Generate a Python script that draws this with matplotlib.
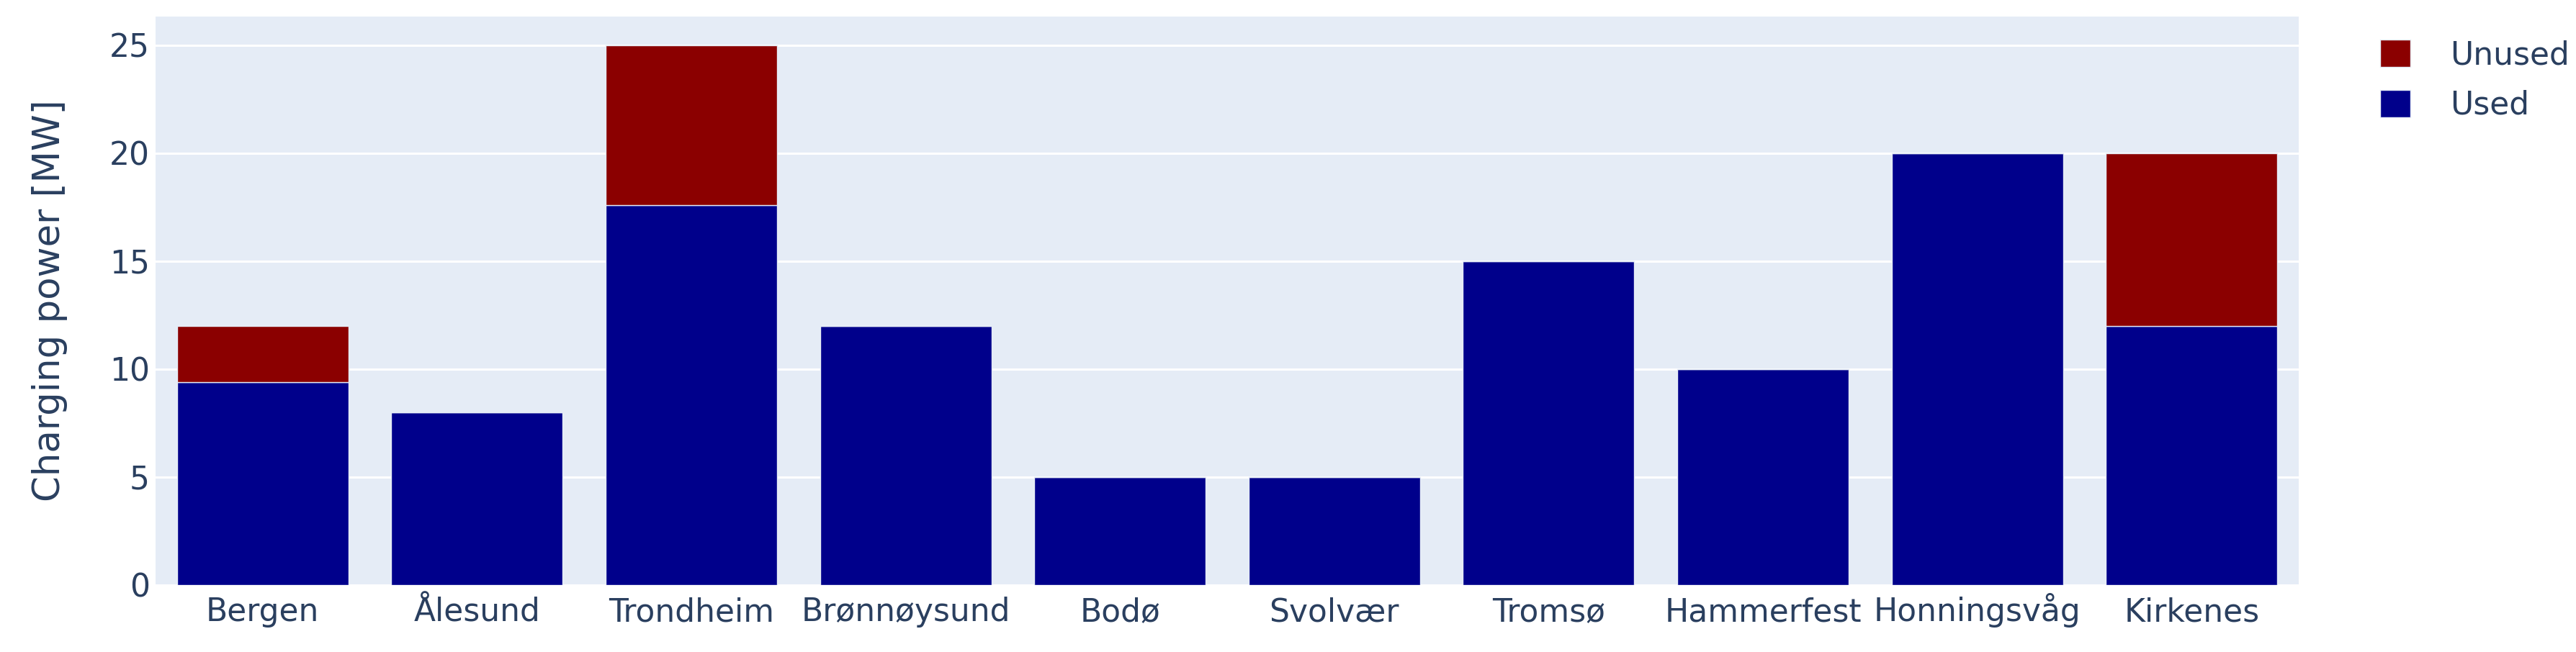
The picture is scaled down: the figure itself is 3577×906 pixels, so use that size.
import matplotlib
matplotlib.use("Agg")
import matplotlib.pyplot as plt
from matplotlib.patches import Patch
import numpy as np

# ── Data ──────────────────────────────────────────────────────────────────────
ports = ["Bergen", "Ålesund", "Trondheim", "Brønnøysund", "Bodø",
         "Svolvær", "Tromsø", "Hammerfest", "Honningsvåg", "Kirkenes"]
used = [9.4, 8, 17.6, 12, 5, 5, 15, 10, 20, 12]
unused = [2.6, 0, 7.4, 0, 0, 0, 0, 0, 0, 8]

# ── Style ─────────────────────────────────────────────────────────────────────
BG = "#E5ECF6"
TXT = "#2a3f5f"
USED_C = "#00008B"
UNUSED_C = "#8B0000"
TICK_FS = 31.7
TITLE_FS = 37

W, H, DPI = 3577, 906, 100
fig = plt.figure(figsize=(W / DPI, H / DPI), dpi=DPI)
fig.patch.set_facecolor("white")
ax = fig.add_axes([216 / W, 1 - 813 / H, (3192 - 216) / W, (813 - 23) / H])
ax.set_facecolor(BG)

x = np.arange(len(ports))
ax.bar(x, used, width=0.8, color=USED_C, edgecolor=BG, linewidth=1.0, zorder=3)
ax.bar(x, unused, width=0.8, bottom=used, color=UNUSED_C, edgecolor=BG,
       linewidth=1.0, zorder=3)

ax.set_xlim(-0.5, len(ports) - 0.5)
ax.set_ylim(0, 26.33)
ax.set_yticks([0, 5, 10, 15, 20, 25])
ax.set_xticks(x)
ax.set_xticklabels(ports)
ax.grid(axis="y", color="white", linewidth=2.2, zorder=1)
ax.set_axisbelow(True)
ax.tick_params(axis="both", length=0, labelsize=TICK_FS, labelcolor=TXT)
ax.tick_params(axis="y", pad=6)
# baseline-aligned like plotly, so the å/Å don't push labels down
ax.tick_params(axis="x", pad=36)
for lab in ax.get_xticklabels():
    lab.set_va("baseline")
for s in ax.spines.values():
    s.set_visible(False)

ax.set_ylabel("Charging power [MW]", fontsize=TITLE_FS, color=TXT)
ax.yaxis.set_label_coords(-0.041, 0.5)

handles = [Patch(facecolor=UNUSED_C, edgecolor=BG, label="Unused"),
           Patch(facecolor=USED_C, edgecolor=BG, label="Used")]
fig.legend(handles=handles, loc="upper left",
           bbox_to_anchor=(3305 / W, 1 - 55 / H),
           frameon=False, fontsize=TICK_FS, labelcolor=TXT,
           handlelength=0.95, handleheight=0.95, handletextpad=1.25,
           labelspacing=0.6, borderpad=0, borderaxespad=0)

fig.savefig("out.png", dpi=DPI, facecolor="white")
